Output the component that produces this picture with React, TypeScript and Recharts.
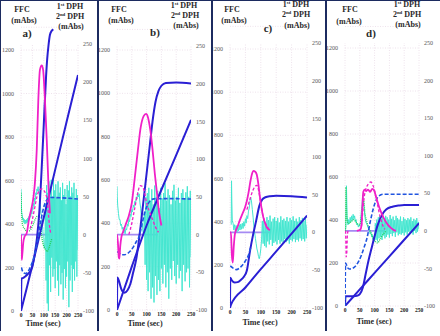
import React from 'react';
import { LineChart, Line, XAxis, YAxis, CartesianGrid, ReferenceLine } from 'recharts';

type Pt = [number, number];

const TIME_TICKS = [0, 50, 100, 150, 200, 250];
const FFC_TICKS = [0, 200, 400, 600, 800, 1000, 1200];
const DPH_TICKS = [-100, -50, 0, 50, 100, 150, 200, 250];
const PANEL_LABELS = ['a)', 'b)', 'c)', 'd)'];
const FFC_TITLE = ['FFC', '(mAbs)'];
const DPH_TITLE = ['1', 'st', ' DPH', '2', 'nd', ' DPH', '(mAbs)'];
const TIME_TITLE = 'Time (sec)';

// ---------- panel a ----------
const aFfcS: Pt[] = [[0,0],[2,150],[10,152],[20,160],[30,170],[40,182],[50,205],[60,260],[70,335],[80,450],[90,640],[100,860],[110,1080],[115,1160],[120,1215],[127,1270],[135,1289],[142,1295]];
const aFfcRamp: Pt[] = [[0,0],[25,105],[50,210],[100,430],[150,650],[200,870],[250,1085]];
const aFfcDash: Pt[] = [[2,200],[6,185],[12,175],[20,172],[30,180],[40,200],[50,225],[60,262],[70,310],[80,370],[90,430],[100,478],[110,505],[120,518],[130,522],[180,520],[250,515]];
const aDph1: Pt[] = [[0,0],[3,-33],[6,-25],[10,-10],[15,-3],[25,2],[35,20],[47,36],[55,50],[61,68],[69,111],[76,177],[83,216],[91,222],[97,216],[105,177],[113,124],[120,68],[127,28]];
const aDph1Dash: Pt[] = [[40,8],[50,20],[60,35],[70,50],[80,58],[90,60],[100,58],[110,52],[115,45],[120,28],[125,12],[130,2]];
const aBase: Pt[] = [[0,0],[128,0]];
const aDph2: Pt[] = [[0,60],[1,45],[2.5,30],[5,26],[7.5,20],[10,22],[12.5,16],[15,20],[17.5,14],[20,19],[22.5,15],[25,20],[27.5,16],[30,22],[32.5,18],[35,24],[37.5,20],[40,27],[42.5,23],[45,31],[47.5,27],[50,36],[52.5,33],[55,41],[57.5,38],[60,48],[62.5,45],[65,55],[67.5,52],[70,60],[72.5,57],[75,63],[77.5,56],[80,55],[82.5,44],[85,40],[87.5,28],[90,25],[92.5,12],[95,10],[97.5,-4],[100,-5],[102.5,-18],[105,-15],
[107.5,40],[110,-60],[112.5,65],[115,-90],[117.5,55],[120,-100],[122.5,70],[125,-40],[127.5,60],[130,-75],[132.5,72],[135,-30],[137.5,50],[140,-55],[142.5,75],[145,-45],[147.5,58],[150,-70],[152.5,66],[155,-35],[157.5,48],[160,-60],[162.5,70],[165,-80],[167.5,55],[170,-40],[172.5,62],[175,-65],[177.5,45],[180,-50],[182.5,68],[185,-85],[187.5,52],[190,-45],[192.5,60],[195,-70],[197.5,40],[200,-55],[202.5,65],[205,-35],[207.5,58],[210,-95],[212.5,70],[215,-60],[217.5,50],[220,-40],[222.5,62],[225,-75],[227.5,55],[230,-45],[232.5,68],[235,-60],[237.5,48],[240,-35],[242.5,60],[245,-55],[247.5,52],[250,-20]];
const aDph2Fit: Pt[] = [[0,55],[3,25],[8,12],[15,8],[25,5],[35,5],[45,8],[55,15],[65,22],[75,25],[85,10],[95,-10],[105,-18],[115,-22],[125,-15],[135,-5]];

// ---------- panel b ----------
const bFfcS: Pt[] = [[0,0],[1,150],[5,140],[15,95],[25,80],[35,90],[45,120],[55,175],[65,235],[72,300],[80,390],[90,510],[100,630],[110,750],[120,870],[130,960],[140,1010],[150,1035],[165,1048],[200,1050],[250,1045]];
const bFfcRamp: Pt[] = [[0,0],[50,200],[100,390],[150,555],[200,715],[250,877]];
const bFfcDash: Pt[] = [[1,270],[8,262],[15,255],[25,255],[35,260],[45,272],[55,290],[65,315],[75,340],[85,400],[95,455],[105,490],[115,508],[125,513],[180,514],[250,512]];
const bDph1: Pt[] = [[0,0],[3,-10],[6,-30],[8,-32],[11,-15],[15,-3],[20,3],[30,14],[40,25],[50,42],[60,75],[70,110],[80,142],[90,157],[98,160],[105,155],[112,140],[120,113],[128,80],[135,55],[142,30],[150,12]];
const bDph1Dash: Pt[] = [[40,0],[50,15],[60,35],[70,55],[78,65],[85,64],[92,58],[100,42],[110,30],[120,20],[130,10],[140,3]];
const bBase: Pt[] = [[0,0],[138,0]];
const bDph2: Pt[] = [[0,64],[1,50],[2.5,38],[5,28],[7.5,20],[10,20],[12.5,12],[15,14],[17.5,7],[20,10],[22.5,2],[25,6],[27.5,1],[30,8],[32.5,6],[35,14],[37.5,11],[40,20],[42.5,17],[45,27],[47.5,24],[50,33],[52.5,30],[55,39],[57.5,36],[60,44],[62.5,41],[65,50],[67.5,47],[70,56],[72.5,50],[75,54],[77.5,42],[80,35],[82.5,22],[85,15],[87.5,5],[90,0],
[92.5,30],[95,-40],[97.5,50],[100,-60],[102.5,55],[105,-75],[107.5,62],[110,-50],[112.5,45],[115,-85],[117.5,60],[120,-70],[122.5,40],[125,-90],[127.5,65],[130,-55],[132.5,50],[135,-80],[137.5,58],[140,-60],[142.5,35],[145,-75],[147.5,62],[150,-45],[152.5,48],[155,-65],[157.5,55],[160,-40],[162.5,68],[165,-70],[167.5,45],[170,-50],[172.5,60],[175,-85],[177.5,52],[180,-45],[182.5,40],[185,-60],[187.5,58],[190,-35],[192.5,66],[195,-55],[197.5,45],[200,-65],[202.5,50],[205,-40],[207.5,62],[210,-58],[212.5,42],[215,-48],[217.5,55],[220,-75],[222.5,60],[225,-40],[227.5,48],[230,-62],[232.5,56],[235,-50],[237.5,64],[240,-45],[242.5,50],[245,-70],[247.5,58],[250,-30]];

// ---------- panel c ----------
const cFfcS: Pt[] = [[0,0],[1,140],[5,130],[15,118],[25,120],[35,130],[45,145],[55,175],[65,265],[75,340],[85,405],[95,472],[105,503],[115,513],[130,518],[150,520],[200,518],[250,512]];
const cFfcRamp: Pt[] = [[0,0],[3,15],[50,95],[100,180],[150,262],[200,345],[250,428]];
const cFfcDash: Pt[] = [[1,195],[10,185],[20,178],[30,184],[40,198],[50,218],[60,245],[68,285]];
const cDph1: Pt[] = [[0,0],[3,0],[6,-30],[9,-40],[12,-20],[16,-2],[25,8],[32,16],[40,24],[49,33],[55,42],[60,52],[67,69],[72,78],[76,81],[82,80],[87,76],[92,64],[97,47],[102,33],[108,20],[114,12],[119,7],[125,4],[130,3]];
const cDph1Dash: Pt[] = [[55,30],[65,44],[75,56],[82,61],[87,62],[93,55],[100,38],[107,22],[115,12],[125,5]];
const cBase: Pt[] = [[0,0],[132,0]];
const cDph2: Pt[] = [[4,10],[5,68],[6,40],[7.5,15],[10,12],[12.5,3],[15,10],[17.5,2],[20,9],[22.5,0],[25,8],[27.5,2],[30,10],[32.5,3],[35,11],[37.5,4],[40,12],[42.5,5],[45,14],[47.5,8],[50,18],[52.5,12],[55,22],[57.5,18],[60,28],[62.5,32],[65,42],[67.5,46],[70,40],[72.5,30],[75,20],[77.5,8],[80,0],[82.5,-8],[85,-15],[87.5,-22],[90,-26],[92.5,-32],[95,-35],[97.5,-30],[100,-22],[102.5,-10],
[105,15],[107.5,-15],[110,18],[112.5,-18],[115,12],[117.5,-20],[120,20],[122.5,-12],[125,16],[127.5,-16],[130,22],[132.5,-10],[135,14],[137.5,-18],[140,18],[142.5,-14],[145,20],[147.5,-12],[150,15],[152.5,-16],[155,19],[157.5,-10],[160,13],[162.5,-15],[165,21],[167.5,-12],[170,16],[172.5,-14],[175,18],[177.5,-9],[180,15],[182.5,-13],[185,20],[187.5,-11],[190,14],[192.5,-15],[195,19],[197.5,-10],[200,16],[202.5,-12],[205,21],[207.5,-9],[210,15],[212.5,-13],[215,18],[217.5,-10],[220,14],[222.5,-12],[225,20],[227.5,-8],[230,16],[232.5,-11],[235,19],[237.5,-9],[240,15],[242.5,-12],[245,18],[247.5,-8],[250,10]];

// ---------- panel d ----------
const dFfcS: Pt[] = [[0,0],[2,45],[10,45],[20,45],[30,45],[40,47],[50,55],[60,85],[70,150],[80,215],[90,270],[100,325],[110,375],[120,410],[130,435],[140,450],[160,462],[180,467],[200,470],[250,470]];
const dFfcRamp: Pt[] = [[0,0],[50,77],[100,154],[150,231],[200,308],[250,385]];
const dFfcDash: Pt[] = [[0,0],[2,200],[8,180],[15,172],[25,175],[35,185],[45,205],[55,235],[65,275],[75,320],[85,390],[95,450],[105,492],[115,512],[130,520],[250,520]];
const dDph1: Pt[] = [[40,0],[52,2],[56,8],[59,35],[62,52],[66,55],[72,53],[78,55],[85,52],[92,56],[98,54],[105,45],[115,32],[125,22],[135,14],[145,8],[155,4],[165,1],[172,0]];
const dDph1Spike: Pt[] = [[2,0],[4,-35],[6,-30],[8,-5],[10,0]];
const dDph1Dash: Pt[] = [[50,0],[55,5],[60,25],[65,45],[70,55],[78,62],[87,65],[95,60],[105,45],[115,25],[125,10],[135,2]];
const dBase: Pt[] = [[0,0],[135,0]];
const dDph2: Pt[] = [[0,0],[3,5],[5,60],[7,20],[10,8],[12.5,15],[15,10],[17.5,18],[20,12],[22.5,20],[25,14],[27.5,22],[30,16],[32.5,20],[35,12],[37.5,15],[40,8],[42.5,10],[45,5],[47.5,8],[50,6],[52.5,14],[55,25],[57.5,35],[60,48],[62.5,40],[65,28],[67.5,18],[70,12],[72.5,10],[75,8],[77.5,5],[80,2],[82.5,0],[85,-4],[87.5,-2],[90,-8],[92.5,-5],[95,-12],[97.5,-8],[100,-14],
[102.5,10],[105,-12],[107.5,15],[110,-14],[112.5,18],[115,-10],[117.5,20],[120,-8],[122.5,16],[125,-12],[127.5,22],[130,-6],[132.5,14],[135,-10],[137.5,20],[140,-8],[142.5,18],[145,-5],[147.5,15],[150,-9],[152.5,21],[155,-4],[157.5,16],[160,-7],[162.5,19],[165,-3],[167.5,14],[170,-8],[172.5,20],[175,-2],[177.5,17],[180,-6],[182.5,15],[185,-4],[187.5,19],[190,-5],[192.5,13],[195,-3],[197.5,18],[200,-6],[202.5,16],[205,-2],[207.5,14],[210,-5],[212.5,17],[215,-1],[217.5,15],[220,-4],[222.5,18],[225,-2],[227.5,13],[230,-5],[232.5,16],[235,0],[237.5,14],[240,-3],[242.5,17],[245,-1],[247.5,12],[250,2]];
const dDph2Fit: Pt[] = [[2,0],[3,58],[5,30],[8,12],[12,10],[20,12],[30,15],[40,10],[50,8],[55,18],[60,35],[63,40],[67,25],[75,10],[85,0],[95,-10],[105,-15],[110,-16],[120,-10],[130,-4],[140,0]];

// ---------- styling / layout ----------
const NAVY = '#1c2b60';
const GRID = '#eee2ec';
const BLUE = '#2a1fd4';
const BLUE_DASH = '#2155e0';
const MAGENTA = '#f020c8';
const CYAN = '#45e6d0';
const GREEN = '#22d055';
const PURPLE = '#a58af2';
const SERIF = 'Liberation Serif, Times New Roman, serif';

const PANELS = [
  { plotLeft: 21, plotRight: 78, bottom: 311, y250: 44, y1200: 50,
    ffcS: aFfcS, ffcRamp: aFfcRamp, ffcDash: aFfcDash, dph1: aDph1, dph1Dash: aDph1Dash, dph1Spike: null, base: aBase, dph2: aDph2, fit: aDph2Fit,
    t: { ffc: [22, 10], mabsL: [24, 21], lab: [27, 33], d1: [70, 7], d2: [70, 17], mabsR: [71, 27], time: [43, 324] } },
  { plotLeft: 117, plotRight: 191, bottom: 310, y250: 46, y1200: 50,
    ffcS: bFfcS, ffcRamp: bFfcRamp, ffcDash: bFfcDash, dph1: bDph1, dph1Dash: bDph1Dash, dph1Spike: null, base: bBase, dph2: bDph2, fit: null,
    t: { ffc: [119, 10], mabsL: [121, 21], lab: [155, 32], d1: [184, 6], d2: [185, 16], mabsR: [186, 26], time: [145, 324] } },
  { plotLeft: 230, plotRight: 307, bottom: 308, y250: 43, y1200: 49,
    ffcS: cFfcS, ffcRamp: cFfcRamp, ffcDash: cFfcDash, dph1: cDph1, dph1Dash: cDph1Dash, dph1Spike: null, base: cBase, dph2: cDph2, fit: null,
    t: { ffc: [232, 10], mabsL: [234, 21], lab: [268, 28], d1: [296, 5], d2: [296, 15], mabsR: [297, 26], time: [260, 323] } },
  { plotLeft: 345, plotRight: 419, bottom: 306, y250: 43, y1200: 48,
    ffcS: dFfcS, ffcRamp: dFfcRamp, ffcDash: dFfcDash, dph1: dDph1, dph1Dash: dDph1Dash, dph1Spike: dDph1Spike, base: dBase, dph2: dDph2, fit: dDph2Fit,
    t: { ffc: [350, 10], mabsL: [349, 22], lab: [371, 33], d1: [407, 5], d2: [407, 15], mabsR: [408, 25], time: [374, 322] } },
];

const rows = (p: Pt[]) => p.map(([t, v]) => ({ t, v }));

function Txt({ at, size, weight, children }: any) {
  return (
    <div style={{ position: 'absolute', left: at[0], top: at[1], transform: 'translate(-50%, -50%)', fontFamily: SERIF,
      fontSize: size, fontWeight: weight, color: '#2a2a2a', lineHeight: 1, whiteSpace: 'nowrap', zIndex: 5 }}>
      {children}
    </div>
  );
}

function Sup({ children }: any) {
  return <span style={{ fontSize: '0.6em', position: 'relative', top: -3 }}>{children}</span>;
}

function Panel({ cfg, idx }: any) {
  const AX = 22;
  const XH = 20;
  const H = 336;
  const top = cfg.y250 - (22 / 350) * (cfg.bottom - cfg.y250);
  const leftMax = (1200 * (cfg.bottom - top)) / (cfg.bottom - cfg.y1200);
  const width = cfg.plotRight - cfg.plotLeft + 2 * AX;
  const yTick = { fontSize: 6, fill: '#555', fontFamily: SERIF };
  const xTick = { fontSize: 5.5, fill: '#222', fontFamily: SERIF, fontWeight: 'bold' };
  const common = { dot: false, activeDot: false, isAnimationActive: false, dataKey: 'v' } as any;
  return (
    <>
      <div style={{ position: 'absolute', left: cfg.plotLeft - AX, top: 0 }}>
        <LineChart width={width} height={H} margin={{ top, right: 0, left: 0, bottom: H - cfg.bottom - XH }}>
          <CartesianGrid yAxisId="ffc" vertical={false} stroke={GRID} strokeDasharray="1 1.5" />
          {TIME_TICKS.map((t) => (
            <ReferenceLine key={t} yAxisId="dph" segment={[{ x: t, y: -100 }, { x: t, y: 250 }]} stroke={GRID} strokeDasharray="1 1.5" />
          ))}
          <XAxis type="number" dataKey="t" domain={[0, 250]} ticks={TIME_TICKS} interval={0} axisLine={false} tickLine={false}
            tickSize={1} tickMargin={1} height={XH} tick={xTick} allowDataOverflow />
          <YAxis yAxisId="ffc" orientation="left" width={AX} domain={[0, leftMax]} ticks={FFC_TICKS} interval={0} axisLine={false}
            tickLine={false} tickSize={4} tickMargin={3} tick={yTick} allowDataOverflow />
          <YAxis yAxisId="dph" orientation="right" width={AX} domain={[-100, 272]} ticks={DPH_TICKS} interval={0} axisLine={false}
            tickLine={false} tickSize={3} tickMargin={2} tick={yTick} allowDataOverflow />
          <Line {...common} yAxisId="dph" data={rows(cfg.base)} stroke={PURPLE} strokeWidth={1.8} type="linear" />
          <Line {...common} yAxisId="dph" data={rows(cfg.dph2)} stroke={CYAN} strokeWidth={1} type="linear" />
          {cfg.fit && <Line {...common} yAxisId="dph" data={rows(cfg.fit)} stroke={GREEN} strokeWidth={1.3} strokeDasharray="1 1" type="monotone" />}
          <Line {...common} yAxisId="ffc" data={rows(cfg.ffcRamp)} stroke={BLUE} strokeWidth={2} type="monotone" />
          <Line {...common} yAxisId="ffc" data={rows(cfg.ffcS)} stroke={BLUE} strokeWidth={2} type="monotone" />
          <Line {...common} yAxisId="ffc" data={rows(cfg.ffcDash)} stroke={BLUE_DASH} strokeWidth={1.6} strokeDasharray="4 2" type="monotone" />
          <Line {...common} yAxisId="dph" data={rows(cfg.dph1Dash)} stroke={MAGENTA} strokeWidth={1.3} strokeDasharray="3 2" type="monotone" />
          {cfg.dph1Spike && <Line {...common} yAxisId="dph" data={rows(cfg.dph1Spike)} stroke={MAGENTA} strokeWidth={1.3} strokeDasharray="3 2" type="linear" />}
          <Line {...common} yAxisId="dph" data={rows(cfg.dph1)} stroke={MAGENTA} strokeWidth={1.8} type="monotone" />
        </LineChart>
      </div>
      <Txt at={cfg.t.ffc} size={8} weight="bold">{FFC_TITLE[0]}</Txt>
      <Txt at={cfg.t.mabsL} size={8} weight="bold">{FFC_TITLE[1]}</Txt>
      <Txt at={cfg.t.lab} size={11} weight="bold">{PANEL_LABELS[idx]}</Txt>
      <Txt at={cfg.t.d1} size={8} weight="bold">{DPH_TITLE[0]}<Sup>{DPH_TITLE[1]}</Sup>{DPH_TITLE[2]}</Txt>
      <Txt at={cfg.t.d2} size={8} weight="bold">{DPH_TITLE[3]}<Sup>{DPH_TITLE[4]}</Sup>{DPH_TITLE[5]}</Txt>
      <Txt at={cfg.t.mabsR} size={8} weight="bold">{DPH_TITLE[6]}</Txt>
      <Txt at={cfg.t.time} size={8} weight="bold">{TIME_TITLE}</Txt>
    </>
  );
}

export default function App() {
  return (
    <div style={{ position: 'absolute', left: 0, top: 0, width: 440, height: 336, background: '#fff', overflow: 'hidden' }}>
      {PANELS.map((cfg, i) => (
        <Panel key={i} cfg={cfg} idx={i} />
      ))}
      <div style={{ position: 'absolute', left: 0, top: 0, width: 440, height: 1, background: NAVY, zIndex: 6 }} />
      <div style={{ position: 'absolute', left: 0, top: 0, width: 1, height: 331, background: NAVY, zIndex: 6 }} />
      {[97, 211, 325].map((x) => (
        <div key={x} style={{ position: 'absolute', left: x, top: 0, width: 2, height: 331, background: NAVY, zIndex: 6 }} />
      ))}
    </div>
  );
}
